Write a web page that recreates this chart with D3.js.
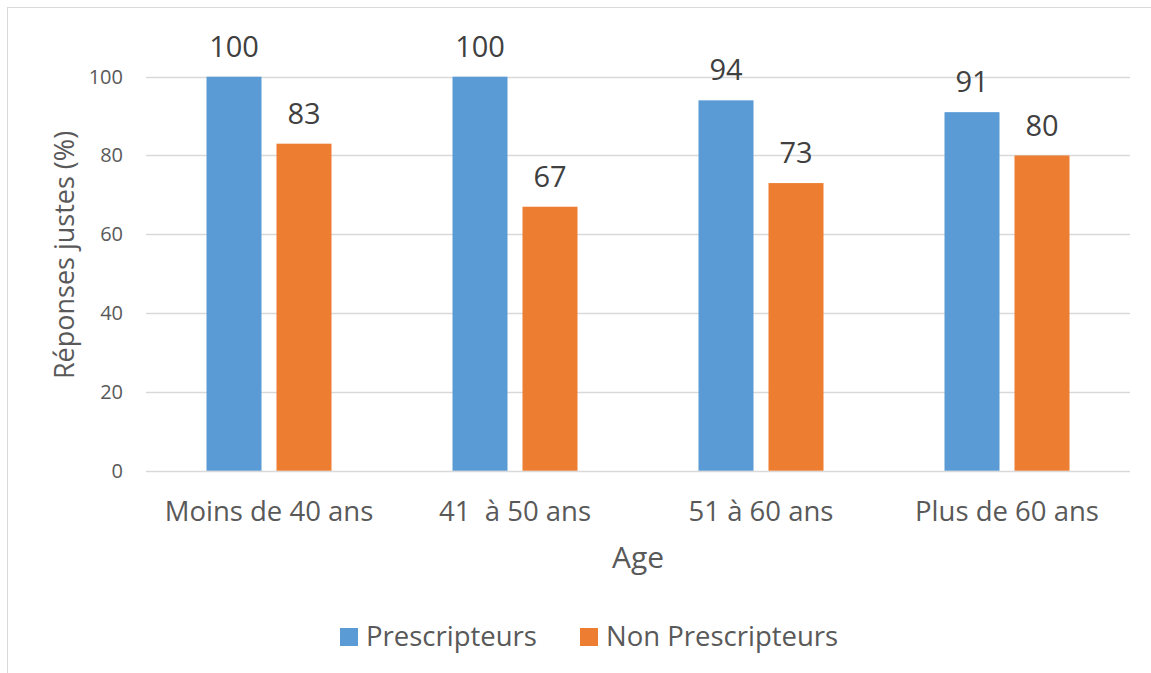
<!DOCTYPE html>
<html>
<head>
<meta charset="utf-8">
<script src="https://cdn.jsdelivr.net/npm/d3@7"></script>
<style>
  body { margin: 0; background: #fff; }
  svg { font-family: "Open Sans", sans-serif; }
</style>
</head>
<body>
<svg id="chart" width="1151" height="673"></svg>
<script>
const categories = ["Moins de 40 ans", "41  à 50 ans", "51 à 60 ans", "Plus de 60 ans"];
const seriesNames = ["Prescripteurs", "Non Prescripteurs"];
const prescripteurs = [100, 100, 94, 91];
const nonPrescripteurs = [83, 67, 73, 80];
const yTicks = [0, 20, 40, 60, 80, 100];
const colors = ["#5B9BD5", "#ED7D31"];

const svg = d3.select("#chart");

// outer chart frame
svg.append("rect")
    .attr("x", 7.5).attr("y", 7.5)
    .attr("width", 1160).attr("height", 700)
    .attr("fill", "#fff")
    .attr("stroke", "#d9d9d9")
    .attr("stroke-width", 1);

let x = d3.scaleBand()
    .domain(categories)
    .range([146, 1130]);

// 2 bars of 55px, 15px gap
let groupW = 125;
let xInner = d3.scaleBand()
    .domain(seriesNames)
    .range([0, groupW])
    .paddingInner(15 / 70);

let y = d3.scaleLinear()
    .domain([0, 100])
    .range([470.7, 76.7]);

// gridlines
svg.append("g")
    .selectAll("line")
    .data(yTicks)
    .join("line")
    .attr("x1", 146).attr("x2", 1130)
    .attr("y1", d => Math.round(y(d)) + 0.5)
    .attr("y2", d => Math.round(y(d)) + 0.5)
    .attr("stroke", "#d9d9d9")
    .attr("stroke-width", 1.3);

// y axis labels
svg.append("g")
    .attr("transform", "translate(123,0)")
    .call(d3.axisLeft(y).tickValues(yTicks).tickSize(0).tickPadding(0))
    .call(g => g.select(".domain").remove())
    .call(g => g.selectAll(".tick text")
        .attr("font-family", "Open Sans, sans-serif")
        .attr("font-size", "20px")
        .attr("fill", "#595959"));

let groups = categories.map((c, i) => ({
    cat: c,
    values: [prescripteurs[i], nonPrescripteurs[i]]
}));

let gGroups = svg.append("g")
    .selectAll("g")
    .data(groups)
    .join("g")
    .attr("transform", d => `translate(${x(d.cat) + (x.bandwidth() - groupW) / 2},0)`);

gGroups.selectAll("rect")
    .data(d => d.values.map((v, j) => ({name: seriesNames[j], v: v, j: j})))
    .join("rect")
    .attr("x", d => xInner(d.name))
    .attr("width", xInner.bandwidth())
    .attr("y", d => y(d.v))
    .attr("height", d => y(0) - y(d.v))
    .attr("fill", d => colors[d.j]);

// data labels
gGroups.selectAll("text")
    .data(d => d.values.map((v, j) => ({name: seriesNames[j], v: v, j: j})))
    .join("text")
    .attr("x", d => xInner(d.name) + xInner.bandwidth() / 2)
    .attr("y", d => y(d.v) - 20)
    .attr("text-anchor", "middle")
    .attr("font-size", "29px")
    .attr("fill", "#404040")
    .text(d => d.v);

// x axis labels
svg.append("g")
    .attr("transform", "translate(0,470.7)")
    .call(d3.axisBottom(x).tickSize(0).tickPadding(31))
    .call(g => g.select(".domain").remove())
    .call(g => g.selectAll(".tick text")
        .attr("font-family", "Open Sans, sans-serif")
        .attr("font-size", "27.5px")
        .attr("fill", "#595959")
        .style("white-space", "pre"));

// axis titles
svg.append("text")
    .attr("x", 638)
    .attr("y", 568)
    .attr("text-anchor", "middle")
    .attr("font-size", "30px")
    .attr("fill", "#595959")
    .text("Age");

svg.append("text")
    .attr("transform", "translate(74,255) rotate(-90)")
    .attr("text-anchor", "middle")
    .attr("font-size", "27px")
    .attr("fill", "#595959")
    .text("Réponses justes (%)");

// legend
let legendX = [340, 580];
let legend = svg.append("g")
    .selectAll("g")
    .data(seriesNames)
    .join("g")
    .attr("transform", (d, i) => `translate(${legendX[i]},628)`);

legend.append("rect")
    .attr("width", 18).attr("height", 18)
    .attr("fill", (d, i) => colors[i]);

legend.append("text")
    .attr("x", 26)
    .attr("y", 18)
    .attr("font-size", "27.5px")
    .attr("fill", "#595959")
    .text(d => d);
</script>
</body>
</html>
